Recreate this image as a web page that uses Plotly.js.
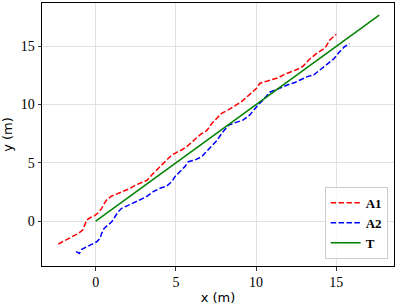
<!DOCTYPE html>
<html>
<head>
<meta charset="utf-8">
<script src="https://cdn.plot.ly/plotly-3.0.1.min.js"></script>
<style>html,body{margin:0;padding:0;background:#fff;}#chart{width:399px;height:307px;}</style>
</head>
<body>
<div id="chart"></div>
<script>
// Trajectory A1
var a1X = [-2.34,-2.02,-1.70,-1.39,-1.08,-0.81,-0.67,-0.56,-0.36,-0.11,0.16,0.37,0.54,0.68,1.0,1.41,1.76,2.14,2.51,2.87,3.2,3.49,3.80,4.11,4.42,4.74,5.05,5.36,5.67,5.88,6.19,6.5,6.92,7.23,7.54,7.85,8.26,8.68,9.10,9.41,9.72,10.03,10.24,10.55,10.97,11.38,11.79,12.21,12.62,12.93,13.3,13.77,14.29,14.6,15.0];
var a1Y = [-1.98,-1.74,-1.57,-1.29,-1.06,-0.77,-0.34,0.09,0.28,0.43,0.71,1.09,1.52,1.80,2.15,2.38,2.52,2.8,3.1,3.3,3.5,3.95,4.38,4.81,5.24,5.67,5.90,6.10,6.38,6.67,7.02,7.39,7.76,8.35,8.82,9.25,9.54,9.88,10.25,10.63,11.02,11.40,11.83,11.97,12.1,12.3,12.6,12.8,13.05,13.3,13.85,14.4,14.84,15.55,16.04];
// Trajectory A2
var a2X = [-1.23,-1.02,-0.87,-0.56,-0.25,0.06,0.27,0.37,0.52,0.79,1.0,1.2,1.41,1.62,1.93,2.34,2.7,3.1,3.59,4.0,4.42,4.74,4.94,5.25,5.56,5.77,6.19,6.6,6.92,7.23,7.54,7.9,8.3,8.79,9.2,9.61,10.03,10.44,10.86,11.28,11.69,12.1,12.42,12.73,13.2,13.6,14.0,14.45,14.85,15.15,15.5,15.82];
var a2Y = [-2.63,-2.78,-2.43,-2.2,-1.98,-1.78,-1.49,-1.06,-0.63,-0.34,-0.06,0.37,0.8,1.09,1.29,1.52,1.82,2.04,2.52,2.81,3.0,3.38,3.81,4.24,4.67,5.09,5.24,5.52,5.95,6.44,6.9,7.6,8.25,8.45,8.68,9.11,9.82,10.4,11.06,11.31,11.55,11.75,11.9,12.1,12.4,12.55,13.0,13.55,13.93,14.45,14.95,15.24];
// Reference T
var tX = [0, 17.68];
var tY = [0, 17.68];
var tickVals = [0, 5, 10, 15];
var tickText = ['0', '5', '10', '15'];

var dash = '5.5px,2.4px';
var traces = [
  {x: a1X, y: a1Y, mode: 'lines', name: '<b>A1</b>', line: {color: '#ff0000', width: 1.5, dash: dash}},
  {x: a2X, y: a2Y, mode: 'lines', name: '<b>A2</b>', line: {color: '#0000ff', width: 1.5, dash: dash}},
  {x: tX, y: tY, mode: 'lines', name: '<b>T</b>', line: {color: '#008000', width: 1.5}}
];

var axisCommon = {
  tickvals: tickVals, ticktext: tickText,
  ticks: 'outside', ticklen: 3.5, tickwidth: 0.8, tickcolor: '#000',
  showline: true, mirror: true, linecolor: '#000', linewidth: 1,
  showgrid: true, gridcolor: '#dadada', gridwidth: 0.8, zeroline: false,
  tickfont: {family: 'Liberation Serif, serif', size: 14, color: '#000'}
};

var layout = {
  width: 399, height: 307,
  margin: {l: 42, r: 5, t: 3, b: 41},
  paper_bgcolor: '#fff', plot_bgcolor: '#fff',
  showlegend: true,
  xaxis: Object.assign({}, axisCommon, {
    range: [-3.35, 18.6],
    title: {text: 'x (m)', font: {family: 'DejaVu Sans, sans-serif', size: 13, color: '#000'}, standoff: 3}
  }),
  yaxis: Object.assign({}, axisCommon, {
    range: [-3.86, 18.72],
    title: {text: 'y (m)', font: {family: 'DejaVu Sans, sans-serif', size: 13, color: '#000'}, standoff: 8}
  }),
  legend: {
    x: 0.982, xanchor: 'right', y: 0.027, yanchor: 'bottom',
    bgcolor: 'rgba(255,255,255,0.8)', bordercolor: '#cccccc', borderwidth: 1,
    font: {family: 'Liberation Serif, serif', size: 13, color: '#000'},
    itemwidth: 30, tracegroupgap: 0
  }
};

Plotly.newPlot('chart', traces, layout, {staticPlot: true, displayModeBar: false});
</script>
</body>
</html>
